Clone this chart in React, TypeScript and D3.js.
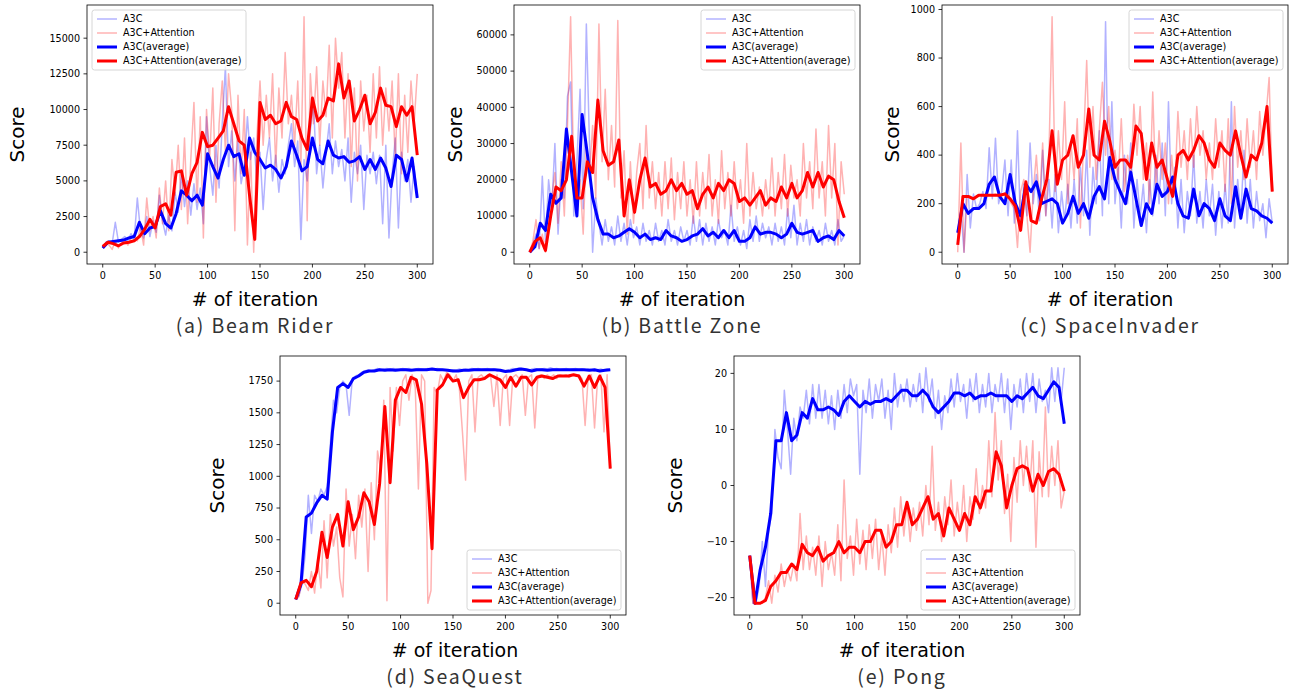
import * as d3 from "d3";

// ---- (a) Beam Rider ----
const beamA3C = [300, 700, 800, 600, 2100, 700, 900, 1100, 800, 1300, 900, 3800, 1500, 1000, 2500, 1100, 2200, 1400, 4000, 2200, 1200, 2600, 1500, 4200, 2800, 5500, 3200, 5000, 2600, 4800, 3000, 4500, 2000, 9500, 6000, 4000, 7500, 4500, 9000, 13000, 6000, 8500, 5000, 7800, 4800, 6000, 9500, 6500, 8000, 5000, 7000, 3000, 6500, 8000, 5000, 6800, 4200, 6500, 5500, 7500, 9000, 6000, 7800, 900, 6500, 5000, 8500, 10500, 5500, 7500, 4500, 7000, 9000, 5500, 7800, 6000, 7200, 5000, 8000, 3500, 7000, 5500, 7500, 3000, 6800, 5500, 7000, 4800, 6800, 2000, 7500, 1000, 5500, 8000, 1700, 7000, 5000, 6500, 3500, 6000, 3800];
const beamAtt = [300, 700, 500, 200, 800, 300, 700, 900, 500, 1000, 1200, 800, 1800, 500, 3800, 1500, 2500, 1000, 4500, 2000, 5000, 1500, 6500, 4000, 7500, 3000, 8000, 2000, 6500, 10500, 3500, 9500, 1000, 10000, 6500, 11500, 3500, 9000, 12000, 7000, 12500, 10000, 1500, 11000, 5500, 10000, 500, 7000, 0, 8000, 12000, 7500, 11000, 8000, 12500, 6000, 11500, 8000, 14000, 9000, 11000, 7500, 12000, 6000, 16500, 2200, 12500, 9000, 13000, 7500, 12000, 9500, 14500, 8000, 15000, 11500, 14000, 8000, 12500, 6000, 11500, 5000, 12000, 8500, 11000, 7000, 12500, 8000, 13000, 7500, 11500, 8500, 12000, 6500, 12500, 5500, 11000, 7000, 12000, 9000, 12500];
const beamA3CAvg = [300, 700, 750, 800, 850, 1000, 1100, 2100, 1300, 1700, 1800, 2900, 2000, 1700, 2700, 4300, 4000, 3600, 4000, 3300, 6900, 6000, 5200, 6500, 7500, 6700, 6900, 5400, 8000, 7000, 6500, 5900, 6100, 5800, 5200, 6000, 7800, 6800, 5700, 6000, 8000, 6500, 6200, 7800, 6800, 6600, 6700, 6300, 6400, 6700, 5800, 6500, 5800, 6600, 5900, 4600, 6800, 6500, 5000, 6600, 3800];
const beamAttAvg = [400, 700, 600, 450, 650, 700, 800, 1100, 1600, 2300, 1700, 3200, 3400, 2600, 5600, 5700, 4000, 5500, 6300, 8400, 7400, 7500, 8000, 8500, 10200, 9000, 7800, 7500, 4000, 900, 10500, 9300, 9600, 9000, 9200, 10500, 9500, 9300, 8000, 7200, 10800, 9200, 9600, 10800, 10600, 13200, 10800, 12000, 9200, 10000, 11000, 9000, 9800, 11500, 10300, 10200, 8800, 10200, 9600, 10200, 6800];

// ---- (b) Battle Zone ----
const battleA3C = [0, 2000, 5000, 1000, 21000, 3000, 20000, 12000, 30000, 5000, 20000, 15000, 43000, 47000, 10000, 25000, 45000, 12000, 63000, 30000, 0, 15000, 8000, 2000, 9000, 3000, 7000, 2000, 10000, 3000, 8000, 2000, 9000, 4000, 7000, 2000, 8000, 3000, 6000, 2000, 8000, 3000, 6000, 2000, 9000, 3000, 6000, 2000, 7000, 3000, 6000, 2000, 10000, 3000, 9000, 2000, 8000, 3000, 7000, 2000, 9000, 4000, 6000, 2000, 13000, 3000, 7000, 2000, 6000, 1000, 9000, 3000, 10000, 3000, 8000, 4000, 7000, 2000, 8000, 3000, 7000, 2000, 12000, 4000, 13000, 2000, 8000, 3000, 9000, 2000, 7000, 3000, 6000, 2000, 8000, 3000, 6000, 2000, 9000, 3000, 4500];
const battleAtt = [0, 3000, 9000, 1000, 5000, 0, 8000, 15000, 22000, 8000, 25000, 10000, 35000, 65000, 20000, 10000, 20000, 5000, 30000, 22000, 35000, 15000, 63000, 25000, 45000, 20000, 35000, 18000, 64000, 15000, 28000, 5000, 25000, 8000, 22000, 30000, 12000, 35000, 15000, 25000, 12000, 22000, 10000, 25000, 12000, 26000, 9000, 22000, 12000, 25000, 10000, 20000, 8000, 25000, 10000, 22000, 12000, 27000, 10000, 20000, 8000, 28000, 12000, 22000, 10000, 25000, 12000, 20000, 8000, 30000, 10000, 22000, 12000, 18000, 10000, 20000, 12000, 26000, 10000, 22000, 12000, 27000, 10000, 24000, 15000, 20000, 10000, 30000, 15000, 25000, 12000, 34000, 15000, 25000, 10000, 35000, 15000, 30000, 2000, 25000, 16000];
const battleA3CAvg = [0, 1500, 8000, 6000, 16000, 13500, 15000, 34000, 22000, 10000, 38000, 27000, 15000, 9000, 5000, 5000, 4000, 4500, 5500, 6500, 5500, 4000, 5000, 3500, 4000, 3500, 6000, 4500, 4000, 3000, 3500, 4500, 5000, 6500, 4500, 5500, 4000, 6000, 4000, 6000, 3000, 3000, 4000, 7000, 5000, 5500, 5500, 5000, 4000, 5000, 8000, 5500, 5000, 5500, 6000, 3000, 4000, 4500, 3500, 6000, 4500];
const battleAttAvg = [0, 3000, 4000, 500, 10000, 18000, 17000, 20000, 32000, 15000, 15000, 25000, 22000, 42000, 28000, 24000, 25000, 31000, 10000, 20000, 11000, 20000, 26000, 18000, 19000, 16000, 17000, 20000, 17000, 19000, 16000, 17000, 12000, 16000, 18000, 15000, 19000, 17000, 20000, 19000, 14000, 15000, 13000, 15000, 17000, 13000, 15000, 14000, 18000, 15000, 19000, 15000, 17000, 22000, 18000, 22000, 18000, 21000, 20000, 14000, 9500];

// ---- (c) SpaceInvader ----
const spaceA3C = [80, 180, 0, 320, 100, 240, 180, 200, 250, 180, 430, 220, 470, 200, 250, 380, 150, 380, 120, 500, 100, 280, 150, 450, 200, 320, 130, 420, 150, 300, 100, 320, 80, 250, 130, 280, 100, 300, 120, 350, 150, 420, 70, 350, 200, 500, 150, 950, 200, 620, 200, 350, 100, 400, 200, 450, 100, 300, 150, 280, 80, 300, 150, 400, 200, 450, 150, 620, 200, 350, 100, 300, 80, 250, 150, 400, 120, 250, 100, 300, 150, 280, 70, 250, 100, 280, 120, 620, 100, 300, 150, 420, 120, 300, 100, 250, 130, 200, 60, 220, 120];
const spaceAtt = [0, 450, 0, 230, 230, 220, 230, 235, 235, 235, 235, 235, 240, 230, 235, 245, 240, 200, 180, 20, 250, 300, 150, 0, 250, 400, 200, 450, 150, 400, 970, 250, 500, 300, 620, 200, 450, 300, 550, 100, 450, 790, 350, 600, 300, 500, 700, 400, 600, 300, 420, 300, 550, 250, 400, 300, 610, 400, 600, 300, 450, 200, 660, 250, 500, 300, 450, 200, 400, 250, 580, 350, 500, 300, 550, 350, 600, 400, 500, 300, 450, 300, 550, 350, 500, 250, 550, 200, 600, 350, 500, 300, 550, 350, 500, 300, 580, 400, 560, 720, 250];
const spaceA3CAvg = [80, 200, 160, 180, 180, 200, 280, 310, 230, 200, 320, 200, 150, 280, 250, 290, 200, 210, 220, 200, 120, 160, 230, 160, 200, 140, 230, 270, 220, 390, 300, 250, 200, 330, 220, 110, 200, 160, 280, 230, 250, 310, 200, 150, 140, 260, 150, 200, 180, 130, 220, 150, 130, 270, 140, 260, 180, 170, 150, 140, 120];
const spaceAttAvg = [30, 230, 230, 220, 235, 235, 235, 235, 235, 240, 220, 190, 90, 290, 130, 120, 220, 300, 500, 280, 380, 400, 480, 350, 400, 590, 400, 380, 540, 460, 350, 380, 380, 350, 520, 490, 300, 450, 350, 380, 300, 230, 400, 420, 380, 420, 480, 450, 380, 350, 450, 420, 400, 500, 400, 310, 400, 380, 450, 600, 250];

// ---- (d) SeaQuest ----
const seaA3C = [30, 60, 150, 380, 850, 550, 850, 800, 900, 850, 920, 1250, 1600, 1500, 1700, 1750, 1720, 1480, 1770, 1790, 1800, 1820, 1830, 1840, 1830, 1840, 1850, 1840, 1845, 1850, 1840, 1850, 1845, 1840, 1850, 1845, 1850, 1840, 1845, 1850, 1845, 1840, 1850, 1845, 1840, 1850, 1845, 1840, 1835, 1830, 1840, 1835, 1845, 1840, 1845, 1840, 1850, 1845, 1850, 1840, 1845, 1850, 1840, 1845, 1830, 1840, 1825, 1835, 1840, 1850, 1845, 1855, 1845, 1840, 1830, 1845, 1850, 1840, 1845, 1850, 1845, 1855, 1845, 1850, 1840, 1845, 1850, 1840, 1845, 1850, 1840, 1845, 1835, 1845, 1840, 1830, 1840, 1845, 1835, 1845, 1840];
const seaAtt = [30, 50, 180, 150, 100, 250, 80, 350, 120, 650, 200, 700, 450, 600, 200, 50, 900, 450, 700, 350, 850, 600, 900, 250, 950, 500, 1200, 1050, 1600, 20, 1700, 1200, 1700, 1400, 1750, 1800, 1600, 1800, 1700, 900, 1800, 1750, 0, 100, 1700, 1650, 1800, 1750, 1820, 1800, 1750, 1800, 1700, 1350, 970, 1750, 1800, 1350, 1780, 1800, 1770, 1800, 1780, 1550, 1800, 1400, 1770, 1800, 1400, 1780, 1800, 1770, 1800, 1480, 1780, 1800, 1380, 1790, 1800, 1770, 1800, 1780, 1800, 1770, 1800, 1790, 1800, 1780, 1800, 1790, 1800, 1770, 1400, 1790, 1800, 1380, 1780, 1800, 1350, 1800, 1060];
const seaA3CAvg = [30, 150, 680, 710, 790, 850, 820, 1350, 1700, 1730, 1700, 1770, 1790, 1820, 1830, 1830, 1840, 1835, 1840, 1835, 1840, 1840, 1835, 1840, 1840, 1840, 1845, 1840, 1840, 1835, 1830, 1830, 1835, 1835, 1840, 1840, 1840, 1840, 1840, 1835, 1825, 1830, 1840, 1845, 1840, 1830, 1840, 1840, 1835, 1840, 1840, 1840, 1840, 1840, 1840, 1840, 1835, 1840, 1830, 1835, 1840];
const seaAttAvg = [30, 160, 180, 130, 250, 560, 360, 600, 700, 450, 800, 580, 680, 870, 800, 620, 940, 1550, 950, 1600, 1700, 1660, 1780, 1760, 1570, 1100, 430, 1680, 1720, 1800, 1750, 1760, 1620, 1700, 1760, 1760, 1770, 1800, 1780, 1760, 1700, 1780, 1710, 1780, 1780, 1720, 1780, 1790, 1780, 1770, 1790, 1790, 1790, 1800, 1790, 1710, 1790, 1700, 1790, 1700, 1060];

// ---- (e) Pong ----
const pongA3C = [-12.5, -21, -21, -18, -10, -18, -8, -5, 10, 5, 3, 17, 10, 2, 12, 8, 14, 12, 17, 11, 18, 12, 18, 12, 17, 11, 16, 10, 17, 12, 18, 13, 19, 16, 18, 2, 17, 13, 19, 12, 18, 15, 19, 12, 17, 10, 20, 14, 18, 15, 19, 14, 18, 15, 20, 13, 21, 15, 19, 12, 17, 10, 16, 13, 19, 14, 20, 15, 18, 12, 19, 15, 20, 13, 18, 14, 20, 13, 18, 15, 20, 13, 19, 10, 18, 14, 19, 13, 20, 15, 20, 13, 19, 15, 17, 13, 21, 15, 21, 15, 21];
const pongAtt = [-12.5, -21, -21, -21, -21, -20, -17, -21, -16, -19, -14, -18, -15, -17, -14, -17, -5, -15, -9, -15, -11, -16, -9, -18, -10, -15, -12, -16, -7, -17, 1, -13, -9, -16, -6, -14, -8, -15, -7, -13, -6, -15, -9, -16, -7, -12, -4, -11, -2, -9, -3, -10, -4, -8, -3, -9, 0, -7, 7, -8, -3, -10, -2, -7, 1, -9, -3, -8, 0, -10, -2, -6, 3, -5, 0, -4, 8, -2, 13, 1, 8, -5, 2, -10, 5, -3, 8, 0, 7, -1, 8, -11, 6, -2, 14, -2, 7, 0, 8, -4, -1];
const pongA3CAvg = [-12.5, -21, -15, -11, -5, 8, 8, 13, 8, 9, 13, 12, 15.5, 13.5, 13.5, 14, 13.5, 12.5, 15, 16, 15, 14, 15, 14.5, 15, 15, 15.5, 15, 16, 17, 17, 16, 16, 17, 16, 14, 13, 14, 15, 16.5, 16.5, 16, 16.5, 15.5, 16, 16, 16.5, 16, 16, 16, 15, 16, 15.5, 16.5, 17.5, 16, 15.5, 17, 18.5, 17.5, 11];
const pongAttAvg = [-12.5, -21, -21, -20.5, -18, -17, -15.5, -15.5, -14, -15, -10.5, -12, -12.5, -11, -13.5, -12.5, -12, -10, -12, -11, -11, -12, -10, -10, -8, -8, -11, -10, -7, -7, -3, -7, -6, -4, -2, -6, -5, -9, -4, -6, -8, -5, -7, -2, -4, -1, -1, 6, 3.5, -4, 0, 3, 3.5, 3, -1, 2, 0, 2.5, 3, 2, -1];

const legendLabels = ["A3C", "A3C+Attention", "A3C(average)", "A3C+Attention(average)"];
const lineColors = ["rgba(0,0,255,0.3)", "rgba(255,0,0,0.3)", "#0000ff", "#ff0000"];
const lineWidths = [1.5, 1.5, 3, 3];

const panels = [
  { id: "a", title: "(a) Beam Rider", left: 87, top: 5, yTicks: d3.range(0, 15001, 2500), legend: "ul", yLabelX: 17, xLabelX: 255,
    series: [beamA3C, beamAtt, beamA3CAvg, beamAttAvg] },
  { id: "b", title: "(b) Battle Zone", left: 514, top: 5, yTicks: d3.range(0, 60001, 10000), legend: "ur", yLabelX: 455, xLabelX: 682,
    series: [battleA3C, battleAtt, battleA3CAvg, battleAttAvg] },
  { id: "c", title: "(c) SpaceInvader", left: 942, top: 5, yTicks: d3.range(0, 1001, 200), legend: "ur", yLabelX: 892, xLabelX: 1110,
    series: [spaceA3C, spaceAtt, spaceA3CAvg, spaceAttAvg] },
  { id: "d", title: "(d) SeaQuest", left: 280, top: 356, yTicks: d3.range(0, 1751, 250), legend: "lr", yLabelX: 217, xLabelX: 455,
    series: [seaA3C, seaAtt, seaA3CAvg, seaAttAvg] },
  { id: "e", title: "(e) Pong", left: 734, top: 356, yTicks: [-20, -10, 0, 10, 20], legend: "lr", yLabelX: 675, xLabelX: 902,
    series: [pongA3C, pongAtt, pongA3CAvg, pongAttAvg] },
];

const PW = 346;
const PH = 259;
const xTicks = [0, 50, 100, 150, 200, 250, 300];
const tickFont = "DejaVu Sans, sans-serif";

function Panel({ p }: { p: (typeof panels)[number] }) {
  const x = d3.scaleLinear().domain([-15, 315]).range([p.left, p.left + PW]);
  const all = p.series.flat();
  const lo = d3.min(all) as number;
  const hi = d3.max(all) as number;
  const pad = (hi - lo) * 0.05;
  const y = d3.scaleLinear().domain([lo - pad, hi + pad]).range([p.top + PH, p.top]);
  const bottom = p.top + PH;
  const right = p.left + PW;

  const lw = 154, lh = 60;
  const lx = p.legend === "ul" ? p.left + 5 : right - 5 - lw;
  const ly = p.legend === "lr" ? bottom - 5 - lh : p.top + 5;

  const fmt = (v: number) => (v < 0 ? "\u2212" + Math.abs(v) : String(v));

  return (
    <g>
      <clipPath id={"clip-" + p.id}>
        <rect x={p.left} y={p.top} width={PW} height={PH} />
      </clipPath>
      <g clipPath={`url(#clip-${p.id})`}>
        {p.series.map((s, k) => {
          const line = d3
            .line<number>()
            .x((_, i) => x((i * 300) / (s.length - 1)))
            .y((d) => y(d));
          return (
            <path key={k} d={line(s) || ""} fill="none" stroke={lineColors[k]} strokeWidth={lineWidths[k]}
              strokeLinejoin="round" strokeLinecap="butt" />
          );
        })}
      </g>
      <rect x={p.left} y={p.top} width={PW} height={PH} fill="none" stroke="#000" strokeWidth={0.8} />
      {xTicks.map((t) => (
        <g key={"x" + t}>
          <line x1={x(t)} x2={x(t)} y1={bottom} y2={bottom + 3.5} stroke="#000" strokeWidth={0.8} />
          <text x={x(t)} y={bottom + 15} textAnchor="middle" fontSize={9.6} fontFamily={tickFont}>{t}</text>
        </g>
      ))}
      {p.yTicks.map((t) => (
        <g key={"y" + t}>
          <line x1={p.left - 3.5} x2={p.left} y1={y(t)} y2={y(t)} stroke="#000" strokeWidth={0.8} />
          <text x={p.left - 7} y={y(t)} dy="0.35em" textAnchor="end" fontSize={9.6} fontFamily={tickFont}>{fmt(t)}</text>
        </g>
      ))}
      <text transform={`translate(${p.yLabelX + 7},${p.top + PH / 2}) rotate(-90)`} textAnchor="middle"
        fontSize={20} fontFamily={tickFont}>Score</text>
      <text x={p.xLabelX} y={bottom + 42} textAnchor="middle" fontSize={19} fontFamily={tickFont}># of iteration</text>
      <text x={p.xLabelX} y={bottom + 69} textAnchor="middle" fontSize={19.5} fill="#333" letterSpacing={1.8}
        fontFamily="'Noto Sans CJK JP', 'Noto Sans', sans-serif">{p.title}</text>
      <g>
        <rect x={lx} y={ly} width={lw} height={lh} rx={2.5} fill="#fff" fillOpacity={0.8} stroke="#ccc" strokeWidth={0.8} />
        {legendLabels.map((lab, k) => (
          <g key={lab}>
            <line x1={lx + 5} x2={lx + 25} y1={ly + 9 + k * 14} y2={ly + 9 + k * 14} stroke={lineColors[k]} strokeWidth={lineWidths[k]} />
            <text x={lx + 31} y={ly + 9 + k * 14} dy="0.35em" fontSize={9.6} fontFamily={tickFont}>{lab}</text>
          </g>
        ))}
      </g>
    </g>
  );
}

export default function App() {
  return (
    <div style={{ position: "absolute", left: 0, top: 0 }}>
      <svg width={1298} height={697} style={{ display: "block", background: "#fff" }}>
        {panels.map((p) => (
          <Panel key={p.id} p={p} />
        ))}
      </svg>
    </div>
  );
}
